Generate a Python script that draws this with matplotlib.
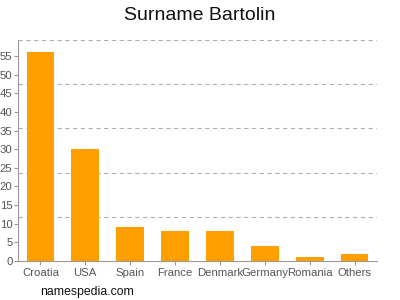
import matplotlib
matplotlib.use('Agg')
import matplotlib.pyplot as plt

# data
countries = ['Croatia', 'USA', 'Spain', 'France', 'Denmark', 'Germany', 'Romania', 'Others']
counts = [56, 30, 9, 8, 8, 4, 1, 2]
yticks = [0, 5, 10, 15, 20, 25, 30, 35, 40, 45, 50, 55]

plt.rcParams['font.family'] = ['Liberation Sans', 'DejaVu Sans']

fig = plt.figure(figsize=(4, 3), dpi=100)
ax = fig.add_axes([0.045, 0.13, 0.8975, 0.7367])

ymax = 59.3
ax.bar(range(len(countries)), counts, width=0.62, color='#ffa000', zorder=2)
ax.set_xlim(-0.5, len(countries) - 0.5)
ax.set_ylim(0, ymax)

# dashed grid lines at fifths of the axis height
for k in range(1, 6):
    ax.axhline(ymax * k / 5, color='#b0b0b0', linestyle=(0, (4, 3)), linewidth=0.8, zorder=1)

ax.set_xticks(range(len(countries)))
ax.set_xticklabels(countries)
ax.set_yticks(yticks)
ax.tick_params(axis='both', colors='#999999', labelcolor='#555555', labelsize=8.2, length=3, width=0.8)
ax.tick_params(axis='x', pad=2)
ax.tick_params(axis='y', pad=1)

for s in ['top', 'right']:
    ax.spines[s].set_visible(False)
for s in ['left', 'bottom']:
    ax.spines[s].set_color('#999999')
    ax.spines[s].set_linewidth(0.8)

fig.text(0.5, 0.95, 'Surname Bartolin', ha='center', va='center', fontsize=14, color='#111111')
fig.text(0.1, 0.028, 'namespedia.com', ha='left', va='center', fontsize=8.8, color='#111111')

fig.savefig('out.png', dpi=100)
